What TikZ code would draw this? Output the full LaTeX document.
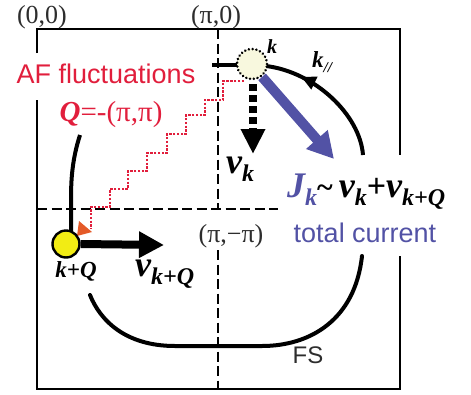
\documentclass[tikz,border=0pt]{standalone}
\usepackage{fontspec}
\setmainfont{Liberation Serif}
\newfontfamily\sfont{Liberation Sans}
\usetikzlibrary{arrows.meta,decorations.markings}
\definecolor{jblue}{RGB}{82,82,165}
\definecolor{afred}{RGB}{225,30,60}
\definecolor{paley}{RGB}{248,248,222}
\definecolor{ylw}{RGB}{242,236,20}
\definecolor{orng}{RGB}{228,90,40}
\definecolor{dgray}{RGB}{45,45,45}
\newcommand\fsz[1]{\fontsize{#1}{#1}\selectfont}
\newcommand\bv[1]{{\fsz{36}\bfseries\itshape v}\raisebox{-8pt}{\fsz{24}\bfseries\itshape #1}}
\tikzset{
  boxline/.style={line width=2.4pt, line join=miter},
  axisline/.style={line width=1.3pt, dash pattern=on 10pt off 4.5pt},
  fsline/.style={line width=4pt},
  lbl/.style={inner sep=0pt, anchor=base},
  stairs/.style={afred, line width=2.6pt, dash pattern=on 2.4pt off 1.4pt},
}
\begin{document}
\begin{tikzpicture}[x=1pt,y=-1pt]
\useasboundingbox (0,0) rectangle (471,394);
% BZ box
\draw[boxline] (37,53) -- (37,29) -- (400,29) -- (400,155);
\draw[boxline] (37,100) -- (37,389) -- (400,389) -- (400,256);
% dashed axes
\draw[axisline] (218,29) -- (218,209);
\draw[axisline] (218,250) -- (218,389);
\draw[axisline] (37,209) -- (278,209);
% corner labels
\node[lbl, text=dgray] (l00) at (42,23) {\fsz{26}(0,0)};
\node[lbl, text=dgray] (lp0) at (216,23) {\fsz{26}(π,0)};
\node[lbl, text=dgray, fill=white, inner sep=1pt] (lpp) at (231,242) {\fsz{26}(π,−π)};
% Fermi surface pieces
\draw[fsline] (212,65) -- (238,65);
\draw[fsline, line cap=round] (362,256) .. controls (355,320) and (310,346) .. (262,346) -- (175,346) .. controls (125,346) and (100,320) .. (90,295);
\draw[fsline] (80,135) .. controls (72,160) and (71,180) .. (71,200) -- (71,232);
\draw[fsline, postaction={decorate}, decoration={markings, mark=at position 0.74 with {\arrow{Triangle[length=15pt,width=13pt]}}}]
  (363,155) .. controls (360,115) and (315,72) .. (266,66);
% AF staircase
\draw[stairs] (244,81) -- (223,81) -- (223,100) -- (205,100) -- (205,115) -- (186,115) -- (186,134) -- (167,134) -- (167,153) -- (147,153) -- (147,171) -- (128,171) -- (128,189) -- (110,189) -- (110,207) -- (91,207) -- (91,229);
\fill[orng] (77,236) -- (79,221) -- (92,232) -- cycle;
% k points
\node[circle, draw=black, fill=paley, line width=2.8pt, dash pattern=on 0.01pt off 3.8pt, line cap=round, minimum size=30pt, inner sep=0pt] (k) at (252,64) {};
\node[circle, draw=black, fill=ylw, line width=2.4pt, minimum size=27pt, inner sep=0pt] (kq) at (66,244) {};
% velocity arrows
\coordinate (vkend) at (253,154);
\coordinate (jend) at (334,159);
\coordinate (vqend) at (164,245);
\draw[line width=7.5pt, dash pattern=on 7pt off 4pt, dash phase=-4pt, -{Triangle[length=25pt,width=23pt]}] (253,80) -- (vkend);
\draw[jblue, line width=10pt, -{Triangle[length=26pt,width=27pt]}] (k.-52) -- (jend);
\draw[line width=8pt, -{Triangle[length=25pt,width=25pt]}] (kq.east) -- (vqend);
% labels
\node[lbl] (lk) at (272,53) {\fsz{20}\bfseries\itshape k};
\node[lbl, anchor=base west] (lkpar) at (312,67) {\fsz{23}\bfseries\itshape k\raisebox{-5pt}{\fsz{15}//}};
\node[lbl, anchor=base west] (lvk) at (226,173) {\bv{k}};
\node[lbl] (lkq) at (76,277) {\fsz{23}\bfseries\itshape k+Q};
\node[lbl, anchor=base west] (lvkq) at (135,276) {\bv{k+Q}};
\node[lbl, text=afred] (laf) at (106,83) {\sfont\fsz{27}AF fluctuations};
\node[lbl, text=afred] (lQ) at (111,121) {\fsz{29}{\bfseries\itshape Q}=-(π,π)};
\node[lbl, anchor=base west] (lJ) at (287,197) {{\color{jblue}\fsz{36}\bfseries\itshape J\raisebox{-8pt}{\fsz{24}k}}{\fsz{30}\bfseries\textasciitilde}\hspace{6pt}\bv{k}{\fsz{34}\bfseries +}\bv{k+Q}};
\node[lbl, text=jblue] (ltc) at (365,242) {\sfont\fsz{27}total current};
\node[lbl, text=dgray] (lfs) at (308,363) {\sfont\fsz{24}FS};
\end{tikzpicture}
\end{document}
